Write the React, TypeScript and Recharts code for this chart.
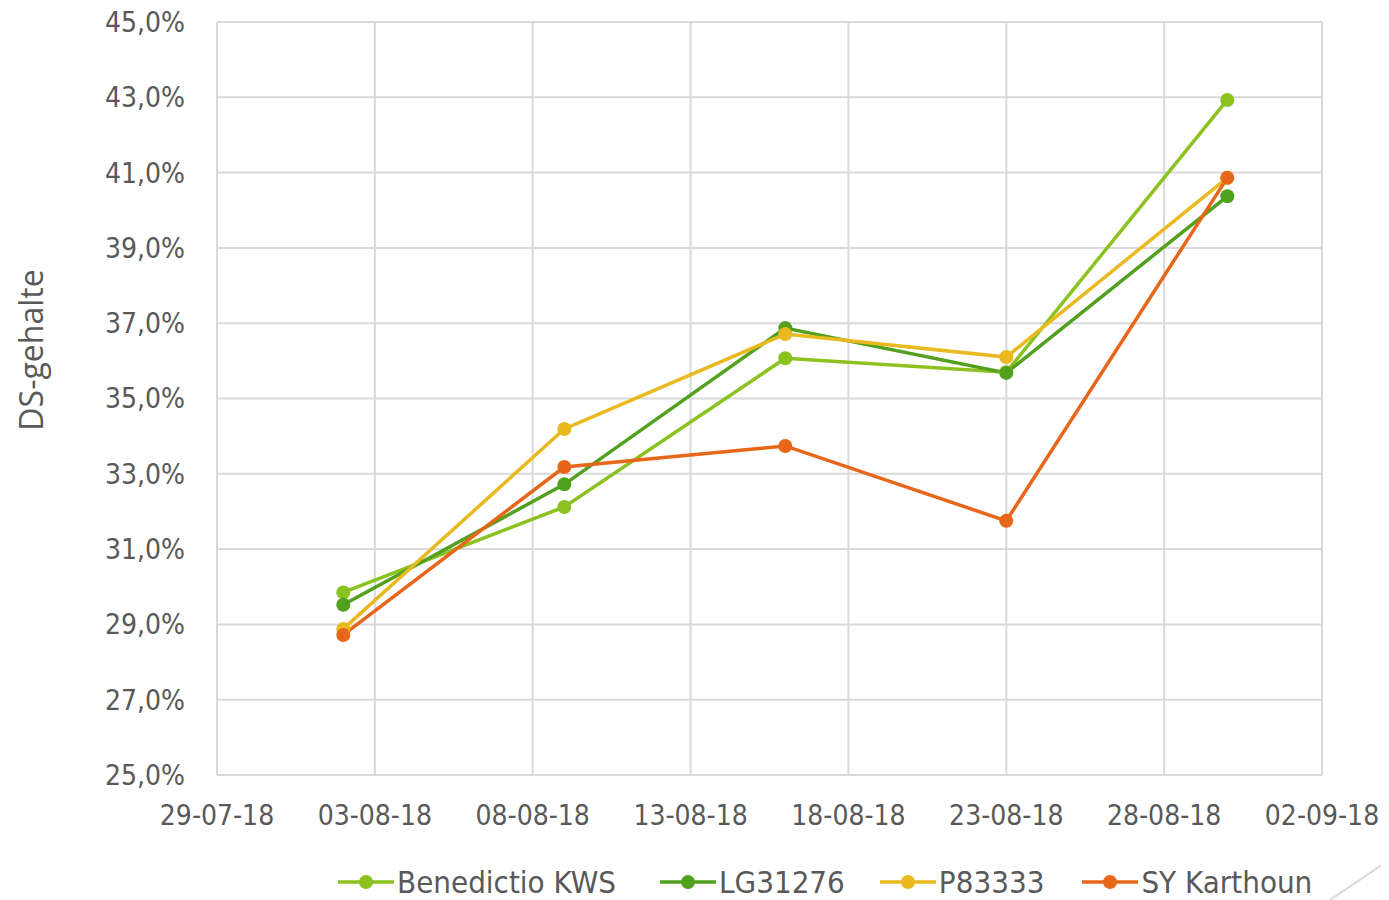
import { LineChart, Line, XAxis, YAxis, CartesianGrid, Legend } from "recharts";

// meetdata DS-gehalte per ras
const DATES = ["2018-08-02", "2018-08-09", "2018-08-16", "2018-08-23", "2018-08-30"];
const BENEDICTIO = [29.85, 32.12, 36.07, 35.7, 42.93];
const LG31276 = [29.52, 32.72, 36.87, 35.68, 40.37];
const P83333 = [28.88, 34.19, 36.71, 36.1, 40.86];
const SY_KARTHOUN = [28.72, 33.18, 33.74, 31.75, 40.86];

const X_TICKS = ["2018-07-29", "2018-08-03", "2018-08-08", "2018-08-13", "2018-08-18", "2018-08-23", "2018-08-28", "2018-09-02"];
const Y_TICKS = [25, 27, 29, 31, 33, 35, 37, 39, 41, 43, 45];

const SERIES = [
  { key: "benedictio", name: "Benedictio KWS", color: "#8CC220", values: BENEDICTIO },
  { key: "lg", name: "LG31276", color: "#52A11E", values: LG31276 },
  { key: "p", name: "P83333", color: "#E9B91F", values: P83333 },
  { key: "sy", name: "SY Karthoun", color: "#E8661A", values: SY_KARTHOUN },
];

const FONT = "'DejaVu Sans Condensed', 'DejaVu Sans', sans-serif";
const TEXT = "#595959";

const toTime = (d: string) => new Date(d + "T00:00:00Z").getTime();

const fmtDate = (t: number) => {
  const d = new Date(t);
  const dd = String(d.getUTCDate()).padStart(2, "0");
  const mm = String(d.getUTCMonth() + 1).padStart(2, "0");
  const yy = String(d.getUTCFullYear()).slice(2);
  return `${dd}-${mm}-${yy}`;
};

const data = DATES.map((d, i) => {
  const row: Record<string, number> = { t: toTime(d) };
  SERIES.forEach((s) => (row[s.key] = s.values[i]));
  return row;
});

const LEGEND_GAPS = [0, 44, 35, 38];

const renderLegend = () => (
  <div style={{ display: "flex", fontFamily: FONT, fontSize: 31, color: TEXT }}>
    {SERIES.map((s, i) => (
      <div key={s.key} style={{ display: "flex", alignItems: "center", marginLeft: LEGEND_GAPS[i] }}>
        <svg width={56} height={16} style={{ marginRight: 3 }}>
          <line x1={0} y1={8} x2={56} y2={8} stroke={s.color} strokeWidth={3.5} />
          <circle cx={28} cy={8} r={7} fill={s.color} />
        </svg>
        <span>{s.name}</span>
      </div>
    ))}
  </div>
);

export default function App() {
  return (
    <div style={{ margin: "-8px 0 0 -8px", width: 1389, height: 900, background: "#fff", position: "relative" }}>
      <LineChart
        width={1389}
        height={900}
        data={data}
        margin={{ top: 22, right: 67, left: 60, bottom: 20 }}
      >
        <CartesianGrid stroke="#d9d9d9" strokeWidth={2} />
        <XAxis
          dataKey="t"
          type="number"
          scale="time"
          domain={[toTime(X_TICKS[0]), toTime(X_TICKS[X_TICKS.length - 1])]}
          ticks={X_TICKS.map(toTime)}
          tickFormatter={fmtDate}
          tick={{ fontSize: 28, fill: TEXT, fontFamily: FONT }}
          axisLine={{ stroke: "#d9d9d9", strokeWidth: 2 }}
          tickLine={false}
          tickMargin={24}
          height={65}
          interval={0}
        />
        <YAxis
          type="number"
          domain={[25, 45]}
          ticks={Y_TICKS}
          tickFormatter={(v: number) => `${v.toFixed(1).replace(".", ",")}%`}
          tick={{ fontSize: 28, fill: TEXT, fontFamily: FONT }}
          axisLine={{ stroke: "#d9d9d9", strokeWidth: 2 }}
          tickLine={false}
          tickMargin={26}
          width={157}
        />
        <Legend
          verticalAlign="bottom"
          content={renderLegend}
          wrapperStyle={{ left: 338, bottom: -4, width: "auto", height: 40 }}
        />
        {SERIES.map((s) => (
          <Line
            key={s.key}
            dataKey={s.key}
            name={s.name}
            stroke={s.color}
            strokeWidth={3.5}
            dot={{ r: 7, fill: s.color, stroke: s.color, strokeWidth: 0 }}
            activeDot={false}
            isAnimationActive={false}
          />
        ))}
      </LineChart>
      <div
        style={{
          position: "absolute",
          left: 30,
          top: 350,
          transform: "translate(-50%, -50%) rotate(-90deg)",
          fontFamily: "'Open Sans', sans-serif",
          fontSize: 32,
          color: TEXT,
          whiteSpace: "nowrap",
        }}
      >
        DS-gehalte
      </div>
      {/* hoekje rechtsonder */}
      <svg width={70} height={50} style={{ position: "absolute", left: 1325, top: 855 }}>
        <line x1={5} y1={45} x2={64} y2={5} stroke="#d9d9d9" strokeWidth={2} />
      </svg>
    </div>
  );
}
